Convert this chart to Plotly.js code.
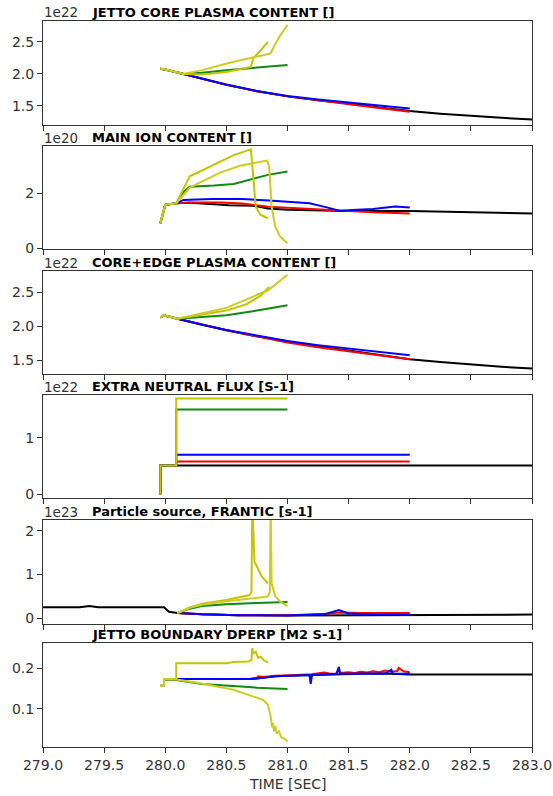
<!DOCTYPE html>
<html><head><meta charset="utf-8">
<script src="https://cdn.plot.ly/plotly-3.0.1.min.js"></script>
<style>html,body{margin:0;padding:0;background:#fff}#chart{width:553px;height:796px}</style>
</head><body><div id="chart"></div>
<script>
// ---------- shared x axis ----------
const timeTicks = [279.0, 279.5, 280.0, 280.5, 281.0, 281.5, 282.0, 282.5, 283.0];

// ---------- Panel 1: JETTO CORE PLASMA CONTENT [] (x 1e22) ----------
const core_black_t = [279.96, 280.0, 280.15, 280.3, 280.5, 280.75, 281.0, 281.25, 281.5, 281.75, 282.0, 282.25, 282.5, 282.75, 283.0];
const core_black_v = [2.08, 2.07, 2.00, 1.93, 1.83, 1.73, 1.65, 1.59, 1.54, 1.475, 1.42, 1.38, 1.345, 1.315, 1.29];
const core_rb_t    = [279.96, 280.0, 280.15, 280.3, 280.5, 280.75, 281.0, 281.25, 281.5, 281.75, 282.0];
const core_red_v   = [2.08, 2.07, 2.00, 1.93, 1.83, 1.73, 1.65, 1.59, 1.535, 1.47, 1.41];
const core_blue_v  = [2.08, 2.07, 2.00, 1.93, 1.835, 1.735, 1.655, 1.60, 1.555, 1.51, 1.46];
const core_green_t = [279.96, 280.0, 280.15, 280.3, 280.5, 280.75, 281.0];
const core_green_v = [2.08, 2.07, 2.00, 2.02, 2.06, 2.10, 2.14];
const core_yA_t    = [279.96, 280.0, 280.15, 280.3, 280.5, 280.7, 280.72, 280.78, 280.84];
const core_yA_v    = [2.08, 2.07, 2.00, 1.99, 2.03, 2.11, 2.24, 2.37, 2.50];
const core_yB_t    = [279.96, 280.0, 280.15, 280.3, 280.56, 280.86, 280.9, 280.94, 281.0];
const core_yB_v    = [2.08, 2.07, 2.00, 2.06, 2.19, 2.32, 2.47, 2.60, 2.77];

// ---------- Panel 2: MAIN ION CONTENT [] (x 1e20) ----------
const ion_black_t = [279.96, 279.98, 280.0, 280.09, 280.2, 280.4, 280.52, 280.72, 280.84, 281.0, 281.25, 281.5, 282.0, 282.4, 282.7, 283.0];
const ion_black_v = [0.91, 1.27, 1.58, 1.64, 1.66, 1.60, 1.57, 1.55, 1.45, 1.40, 1.38, 1.36, 1.36, 1.33, 1.31, 1.27];
const ion_red_t   = [279.96, 279.98, 280.0, 280.09, 280.2, 280.45, 280.63, 280.84, 281.0, 281.25, 281.43, 281.7, 282.0];
const ion_red_v   = [0.91, 1.27, 1.58, 1.64, 1.67, 1.67, 1.63, 1.51, 1.47, 1.42, 1.36, 1.31, 1.27];
const ion_blue_t  = [279.96, 279.98, 280.0, 280.09, 280.15, 280.38, 280.63, 280.85, 281.01, 281.18, 281.33, 281.43, 281.53, 281.7, 281.88, 282.0];
const ion_blue_v  = [0.91, 1.27, 1.58, 1.64, 1.76, 1.79, 1.79, 1.74, 1.68, 1.64, 1.48, 1.36, 1.39, 1.43, 1.52, 1.48];
const ion_green_t = [279.96, 279.98, 280.0, 280.09, 280.15, 280.2, 280.4, 280.56, 280.7, 280.84, 281.0];
const ion_green_v = [0.91, 1.27, 1.58, 1.64, 2.05, 2.24, 2.28, 2.34, 2.51, 2.67, 2.79];
const ion_yA_t    = [279.96, 279.98, 280.0, 280.09, 280.15, 280.2, 280.3, 280.42, 280.56, 280.68, 280.70, 280.72, 280.74, 280.78, 280.84];
const ion_yA_v    = [0.91, 1.27, 1.58, 1.64, 2.18, 2.62, 2.83, 3.09, 3.39, 3.57, 3.60, 2.60, 1.51, 1.21, 1.09];
const ion_yB_t    = [279.96, 279.98, 280.0, 280.09, 280.15, 280.2, 280.285, 280.45, 280.61, 280.78, 280.83, 280.85, 280.87, 280.9, 280.94, 281.0];
const ion_yB_v    = [0.91, 1.27, 1.58, 1.64, 1.95, 2.2, 2.4, 2.75, 3.0, 3.15, 3.19, 3.0, 1.51, 0.79, 0.42, 0.18];

// ---------- Panel 3: CORE+EDGE PLASMA CONTENT [] (x 1e22) ----------
const ce_black_t = [279.96, 279.99, 280.1, 280.3, 280.5, 280.75, 281.0, 281.25, 281.5, 281.75, 282.0, 282.25, 282.5, 282.75, 283.0];
const ce_black_v = [2.13, 2.16, 2.11, 2.02, 1.94, 1.85, 1.77, 1.70, 1.64, 1.57, 1.51, 1.47, 1.43, 1.40, 1.375];
const ce_rb_t    = [279.96, 279.99, 280.1, 280.3, 280.5, 280.75, 281.0, 281.25, 281.5, 281.75, 282.0];
const ce_red_v   = [2.13, 2.16, 2.11, 2.02, 1.94, 1.85, 1.76, 1.69, 1.63, 1.57, 1.51];
const ce_blue_v  = [2.13, 2.16, 2.11, 2.02, 1.945, 1.86, 1.78, 1.72, 1.67, 1.62, 1.57];
const ce_green_t = [279.96, 279.99, 280.1, 280.3, 280.5, 280.75, 281.0];
const ce_green_v = [2.13, 2.16, 2.11, 2.13, 2.16, 2.23, 2.31];
const ce_yA_t    = [279.96, 279.99, 280.1, 280.3, 280.5, 280.67, 280.78, 280.85];
const ce_yA_v    = [2.13, 2.16, 2.11, 2.17, 2.23, 2.33, 2.45, 2.58];
const ce_yB_t    = [279.96, 279.99, 280.1, 280.3, 280.5, 280.67, 280.84, 281.0];
const ce_yB_v    = [2.13, 2.16, 2.11, 2.19, 2.27, 2.40, 2.53, 2.76];

// ---------- Panel 4: EXTRA NEUTRAL FLUX [S-1] (x 1e22) ----------
const flux_black_t  = [279.96, 279.96, 283.0];
const flux_black_v  = [0, 0.51, 0.51];
const flux_step_t   = [279.96, 279.96, 280.09, 280.09, 282.0];
const flux_red_v    = [0, 0.51, 0.51, 0.58, 0.58];
const flux_blue_v   = [0, 0.51, 0.51, 0.70, 0.70];
const flux_short_t  = [279.96, 279.96, 280.09, 280.09, 281.0];
const flux_green_v  = [0, 0.51, 0.51, 1.50, 1.50];
const flux_yellow_v = [0, 0.51, 0.51, 1.69, 1.69];

// ---------- Panel 5: Particle source, FRANTIC [s-1] (x 1e23) ----------
const src_black_t = [279.0, 279.3, 279.38, 279.45, 279.7, 279.99, 280.03, 280.1, 280.3, 280.6, 281.0, 281.4, 281.8, 282.0, 282.5, 283.0];
const src_black_v = [0.25, 0.25, 0.28, 0.255, 0.25, 0.25, 0.15, 0.12, 0.09, 0.07, 0.065, 0.07, 0.075, 0.08, 0.075, 0.085];
const src_red_t   = [280.1, 280.3, 280.6, 281.0, 281.3, 281.42, 281.6, 282.0];
const src_red_v   = [0.12, 0.09, 0.07, 0.07, 0.10, 0.13, 0.12, 0.12];
const src_blue_t  = [280.1, 280.3, 280.6, 281.0, 281.3, 281.42, 281.5, 281.7, 282.0];
const src_blue_v  = [0.12, 0.09, 0.07, 0.065, 0.09, 0.19, 0.11, 0.085, 0.08];
const src_green_t = [280.1, 280.2, 280.3, 280.5, 280.75, 281.0];
const src_green_v = [0.12, 0.22, 0.28, 0.32, 0.35, 0.37];
const src_yA_t    = [280.1, 280.2, 280.3, 280.5, 280.69, 280.705, 280.712, 280.722, 280.73, 280.79, 280.84];
const src_yA_v    = [0.12, 0.25, 0.33, 0.42, 0.53, 0.60, 2.60, 1.60, 1.29, 0.95, 0.80];
const src_yB_t    = [280.1, 280.2, 280.3, 280.5, 280.7, 280.84, 280.855, 280.862, 280.87, 280.9, 280.94, 281.0];
const src_yB_v    = [0.12, 0.24, 0.31, 0.39, 0.45, 0.50, 0.60, 2.60, 0.80, 0.50, 0.38, 0.28];

// ---------- Panel 6: JETTO BOUNDARY DPERP [M2 S-1] ----------
const dp_black_t = [280.09, 280.3, 280.5, 280.7, 280.8, 280.9, 281.0, 281.2, 281.4, 281.6, 281.8, 282.0, 282.5, 283.0];
const dp_black_v = [0.173, 0.173, 0.173, 0.173, 0.176, 0.180, 0.181, 0.183, 0.185, 0.186, 0.187, 0.184, 0.184, 0.184];
const dp_red_t   = [280.09, 280.3, 280.5, 280.7, 280.75, 280.76, 280.8, 280.9, 281.0, 281.1, 281.2, 281.3, 281.35, 281.4, 281.42, 281.43, 281.5, 281.55, 281.6, 281.65, 281.7, 281.75, 281.8, 281.85, 281.9, 281.91, 281.95, 282.0];
const dp_red_v   = [0.173, 0.173, 0.173, 0.174, 0.176, 0.180, 0.178, 0.181, 0.182, 0.184, 0.185, 0.189, 0.186, 0.187, 0.195, 0.188, 0.190, 0.188, 0.191, 0.189, 0.192, 0.190, 0.194, 0.191, 0.193, 0.200, 0.192, 0.190];
const dp_blue_t  = [280.09, 280.3, 280.5, 280.7, 280.8, 280.9, 281.0, 281.1, 281.18, 281.19, 281.2, 281.3, 281.4, 281.42, 281.43, 281.6, 281.8, 281.85, 281.86, 282.0];
const dp_blue_v  = [0.173, 0.173, 0.173, 0.173, 0.176, 0.180, 0.181, 0.182, 0.183, 0.161, 0.183, 0.185, 0.186, 0.203, 0.186, 0.187, 0.187, 0.196, 0.186, 0.186];
const dp_green_t = [279.96, 279.99, 279.99, 280.09, 280.3, 280.5, 280.75, 281.0];
const dp_green_v = [0.157, 0.157, 0.172, 0.171, 0.161, 0.157, 0.152, 0.149];
const dp_yA_t    = [279.96, 279.99, 279.99, 280.09, 280.09, 280.3, 280.5, 280.56, 280.68, 280.705, 280.712, 280.72, 280.74, 280.76, 280.78, 280.81, 280.84];
const dp_yA_v    = [0.157, 0.157, 0.173, 0.173, 0.212, 0.212, 0.212, 0.215, 0.216, 0.220, 0.249, 0.235, 0.240, 0.225, 0.228, 0.218, 0.214];
const dp_yB_t    = [279.96, 279.99, 279.99, 280.09, 280.285, 280.56, 280.8, 280.84, 280.86, 280.87, 280.875, 280.88, 280.89, 280.9, 280.91, 280.93, 280.95, 280.97, 281.0];
const dp_yB_v    = [0.157, 0.157, 0.173, 0.172, 0.163, 0.147, 0.122, 0.110, 0.085, 0.070, 0.055, 0.065, 0.045, 0.058, 0.040, 0.045, 0.030, 0.028, 0.020];

// ---------- styles ----------
const C = {k:'#000000', r:'#ff0000', b:'#0000ff', g:'#118a11', yA:'#c4c400', yB:'#cccc22'};
const FONT = 'DejaVu Sans, Arial, sans-serif';

function tr(x, y, color, n) {
  const s = n === 1 ? '' : String(n);
  return {x: x, y: y, type: 'scatter', mode: 'lines', line: {color: color, width: 2},
          xaxis: 'x' + s, yaxis: 'y' + s, hoverinfo: 'skip', showlegend: false};
}

const traces = [
  tr(core_black_t, core_black_v, C.k, 1), tr(core_rb_t, core_red_v, C.r, 1), tr(core_rb_t, core_blue_v, C.b, 1),
  tr(core_green_t, core_green_v, C.g, 1), tr(core_yA_t, core_yA_v, C.yA, 1), tr(core_yB_t, core_yB_v, C.yB, 1),

  tr(ion_black_t, ion_black_v, C.k, 2), tr(ion_red_t, ion_red_v, C.r, 2), tr(ion_blue_t, ion_blue_v, C.b, 2),
  tr(ion_green_t, ion_green_v, C.g, 2), tr(ion_yA_t, ion_yA_v, C.yA, 2), tr(ion_yB_t, ion_yB_v, C.yB, 2),

  tr(ce_black_t, ce_black_v, C.k, 3), tr(ce_rb_t, ce_red_v, C.r, 3), tr(ce_rb_t, ce_blue_v, C.b, 3),
  tr(ce_green_t, ce_green_v, C.g, 3), tr(ce_yA_t, ce_yA_v, C.yA, 3), tr(ce_yB_t, ce_yB_v, C.yB, 3),

  tr(flux_black_t, flux_black_v, C.k, 4), tr(flux_step_t, flux_red_v, C.r, 4), tr(flux_step_t, flux_blue_v, C.b, 4),
  tr(flux_short_t, flux_green_v, C.g, 4), tr(flux_short_t, flux_yellow_v, C.yA, 4),

  tr(src_black_t, src_black_v, C.k, 5), tr(src_red_t, src_red_v, C.r, 5), tr(src_blue_t, src_blue_v, C.b, 5),
  tr(src_green_t, src_green_v, C.g, 5), tr(src_yA_t, src_yA_v, C.yA, 5), tr(src_yB_t, src_yB_v, C.yB, 5),

  tr(dp_black_t, dp_black_v, C.k, 6), tr(dp_red_t, dp_red_v, C.r, 6), tr(dp_blue_t, dp_blue_v, C.b, 6),
  tr(dp_green_t, dp_green_v, C.g, 6), tr(dp_yA_t, dp_yA_v, C.yA, 6), tr(dp_yB_t, dp_yB_v, C.yB, 6)
];

// ---------- layout ----------
const W = 553, H = 796, ML = 43, MR = 21, MT = 21, MB = 49;
const PW = W - ML - MR, PH = H - MT - MB;
const yBottom = H - MB;
// panel pixel boxes [top, bottom]
const boxes = [[21, 125.3], [146, 249], [271, 373.7], [395, 497.7], [520, 624], [643.3, 747]];
const titles = ['JETTO CORE PLASMA CONTENT []', 'MAIN ION CONTENT []', 'CORE+EDGE PLASMA CONTENT []',
                'EXTRA NEUTRAL FLUX [S-1]', 'Particle source, FRANTIC [s-1]', 'JETTO BOUNDARY DPERP [M2 S-1]'];
const exps = ['1e22', '1e20', '1e22', '1e22', '1e23', ''];
const yRanges = [[1.198, 2.828], [-0.025, 3.72], [1.298, 2.815], [-0.06, 1.754], [-0.13, 2.244], [0.0066, 0.2607]];
const yTicks = [[1.5, 2.0, 2.5], [0, 2], [1.5, 2.0, 2.5], [0, 1], [0, 1, 2], [0.1, 0.2]];
const yFmt = ['.1f', 'd', '.1f', 'd', 'd', '.1f'];

const layout = {
  width: W, height: H, margin: {l: ML, r: MR, t: MT, b: MB},
  paper_bgcolor: '#fff', plot_bgcolor: '#fff',
  font: {family: FONT, size: 14, color: '#333'},
  showlegend: false, annotations: []
};
const py2paper = p => (yBottom - p) / PH;
const px2paper = p => (p - ML) / PW;

for (let i = 0; i < 6; i++) {
  const n = i + 1, s = n === 1 ? '' : String(n);
  layout['xaxis' + s] = {
    domain: [0, 1], anchor: 'y' + s, range: [279, 283], tickvals: timeTicks, tickformat: '.1f',
    showticklabels: n === 6, ticks: 'outside', ticklen: 5, tickwidth: 1, tickcolor: '#333',
    showline: true, mirror: true, linecolor: '#333', linewidth: 1,
    showgrid: false, zeroline: false, tickfont: {family: FONT, size: 14, color: '#333'}
  };
  layout['yaxis' + s] = {
    domain: [py2paper(boxes[i][1]), py2paper(boxes[i][0])], anchor: 'x' + s, range: yRanges[i],
    tickvals: yTicks[i], tickformat: yFmt[i], ticks: 'outside', ticklen: 5, tickwidth: 1, tickcolor: '#333',
    showline: true, mirror: true, linecolor: '#333', linewidth: 1,
    showgrid: false, zeroline: false, tickfont: {family: FONT, size: 14, color: '#333'}
  };
  const ty = py2paper(boxes[i][0] - 8.5);
  layout.annotations.push({xref: 'paper', yref: 'paper', x: px2paper(90), y: ty, xanchor: 'left', yanchor: 'middle',
    text: '<b>' + titles[i] + '</b>', showarrow: false, font: {family: FONT, size: 13, color: '#000'}});
  if (exps[i]) layout.annotations.push({xref: 'paper', yref: 'paper', x: px2paper(42), y: ty, xanchor: 'left', yanchor: 'middle',
    text: exps[i], showarrow: false, font: {family: FONT, size: 13.5, color: '#333'}});
}
layout.annotations.push({xref: 'paper', yref: 'paper', x: 0.5, y: py2paper(784), xanchor: 'center', yanchor: 'middle',
  text: 'TIME [SEC]', showarrow: false, font: {family: FONT, size: 14, color: '#333'}});

Plotly.newPlot('chart', traces, layout, {staticPlot: true, displayModeBar: false});
</script>
</body></html>
